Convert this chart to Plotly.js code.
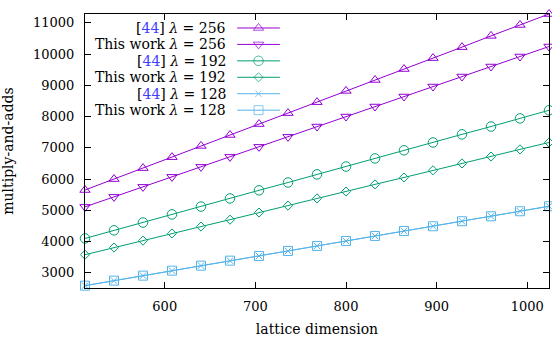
<!DOCTYPE html>
<html>
<head>
<meta charset="utf-8">
<script src="https://cdn.plot.ly/plotly-3.0.1.min.js"></script>
<style>html,body{margin:0;padding:0;background:#fff;}#chart{width:552px;height:337px;}</style>
</head>
<body>
<div id="chart"></div>
<script>
// ---- data ----
var latticeDim = [512, 544, 576, 608, 640, 672, 704, 736, 768, 800, 832, 864, 896, 928, 960, 992, 1024];
var ref256  = [5650, 6000, 6350, 6700, 7060, 7410, 7760, 8110, 8460, 8820, 9170, 9520, 9870, 10220, 10580, 10930, 11280];
var this256 = [5110, 5430, 5750, 6070, 6390, 6710, 7030, 7350, 7680, 8000, 8320, 8640, 8960, 9280, 9600, 9920, 10240];
var ref192  = [4100, 4360, 4610, 4870, 5120, 5380, 5640, 5890, 6150, 6400, 6660, 6920, 7170, 7430, 7680, 7940, 8200];
var this192 = [3580, 3810, 4030, 4260, 4480, 4700, 4930, 5150, 5380, 5600, 5830, 6050, 6280, 6500, 6720, 6950, 7170];
var ref128  = [2590, 2750, 2910, 3070, 3230, 3390, 3540, 3700, 3860, 4020, 4180, 4340, 4490, 4650, 4810, 4970, 5130];
var this128 = [2590, 2750, 2910, 3070, 3230, 3390, 3540, 3700, 3860, 4020, 4180, 4340, 4490, 4650, 4810, 4970, 5130];
var xTicks = [600, 700, 800, 900, 1000];
var yTicks = [3000, 4000, 5000, 6000, 7000, 8000, 9000, 10000, 11000];
var legendLabels = [
  '[<span style="color:#3f3fff">44</span>] <i>λ</i> = 256',
  'This work <i>λ</i> = 256',
  '[<span style="color:#3f3fff">44</span>] <i>λ</i> = 192',
  'This work <i>λ</i> = 192',
  '[<span style="color:#3f3fff">44</span>] <i>λ</i> = 128',
  'This work <i>λ</i> = 128'
];

// ---- styles ----
var PURPLE = '#9400d3', GREEN = '#009e73', BLUE = '#56b4e9';
var FONT = 'DejaVu Serif';
var styles = [
  {y: ref256,  color: PURPLE, symbol: 'triangle-up-open',   size: 9},
  {y: this256, color: PURPLE, symbol: 'triangle-down-open', size: 9},
  {y: ref192,  color: GREEN,  symbol: 'circle-open',        size: 9.5},
  {y: this192, color: GREEN,  symbol: 'diamond-open',       size: 7},
  {y: ref128,  color: BLUE,   symbol: 'x-thin-open',        size: 6.5},
  {y: this128, color: BLUE,   symbol: 'square-open',        size: 9}
];

var traces = styles.map(function (s) {
  return {
    type: 'scatter', mode: 'lines+markers', x: latticeDim, y: s.y,
    line: {color: s.color, width: 1},
    marker: {symbol: s.symbol, size: s.size, color: s.color, line: {color: s.color, width: 1}},
    showlegend: false, cliponaxis: false, hoverinfo: 'skip'
  };
});

// custom legend (key to the right of the text, like gnuplot)
var LEG = {textX: 0.308, lineL: 0.328, lineR: 0.420, y0: 0.949, dy: 0.0600};
var annotations = [];
styles.forEach(function (s, i) {
  var yy = LEG.y0 - i * LEG.dy;
  traces.push({
    type: 'scatter', mode: 'lines+markers', xaxis: 'x2', yaxis: 'y2',
    x: [LEG.lineL, (LEG.lineL + LEG.lineR) / 2, LEG.lineR], y: [yy, yy, yy],
    line: {color: s.color, width: 1},
    marker: {symbol: s.symbol, size: [0, s.size, 0], color: s.color, line: {color: s.color, width: 1}},
    showlegend: false, cliponaxis: false, hoverinfo: 'skip'
  });
  annotations.push({
    xref: 'paper', yref: 'paper', x: LEG.textX, y: yy, xanchor: 'right', yanchor: 'middle',
    text: legendLabels[i], showarrow: false, font: {family: FONT, size: 14, color: '#000'}
  });
});

var axisCommon = {
  showline: true, linecolor: '#000', linewidth: 1, mirror: 'ticks',
  ticks: 'inside', ticklen: 6, tickwidth: 1, tickcolor: '#000',
  showgrid: false, zeroline: false, exponentformat: 'none', separatethousands: false,
  tickfont: {family: FONT, size: 13, color: '#000'}
};

var layout = {
  width: 552, height: 337,
  margin: {l: 85, r: 3, t: 14, b: 49},
  paper_bgcolor: '#fff', plot_bgcolor: '#fff',
  xaxis: Object.assign({}, axisCommon, {
    range: [512, 1024], tickvals: xTicks, ticktext: xTicks.map(String), ticklabelstandoff: 6,
    title: {text: 'lattice dimension', font: {family: FONT, size: 14, color: '#000'}, standoff: 12}
  }),
  yaxis: Object.assign({}, axisCommon, {
    range: [2515, 11280], tickvals: yTicks, ticktext: yTicks.map(String), ticklabelstandoff: 7,
    title: {text: 'multiply-and-adds', font: {family: FONT, size: 14, color: '#000'}, standoff: 16}
  }),
  xaxis2: {overlaying: 'x', range: [0, 1], visible: false, fixedrange: true},
  yaxis2: {overlaying: 'y', range: [0, 1], visible: false, fixedrange: true},
  annotations: annotations,
  showlegend: false
};

Plotly.newPlot('chart', traces, layout, {staticPlot: true, displayModeBar: false});
</script>
</body>
</html>
